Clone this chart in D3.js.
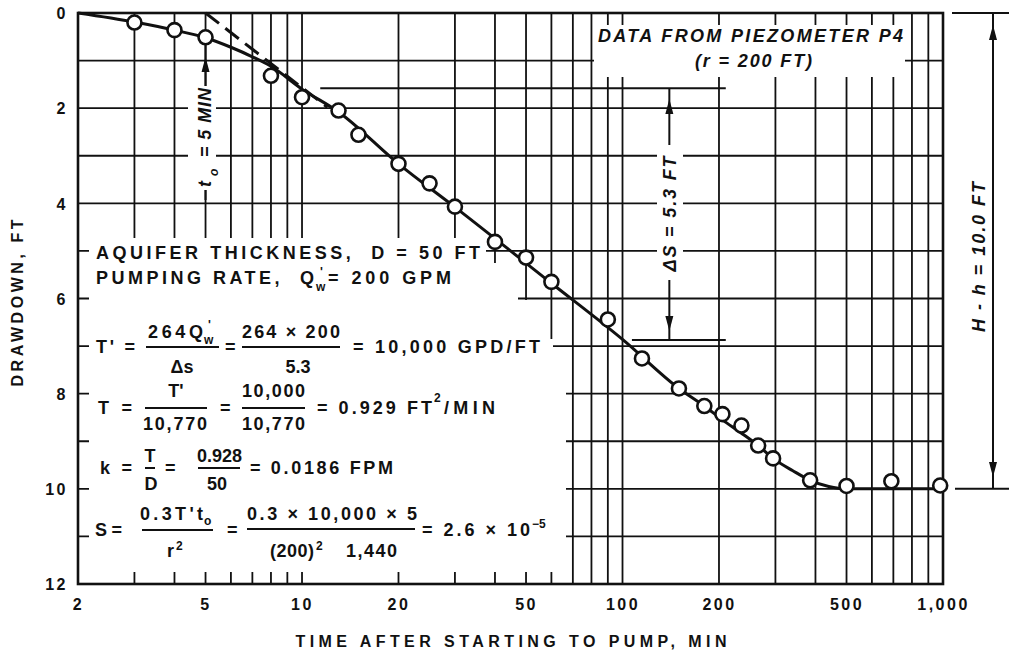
<!DOCTYPE html>
<html><head><meta charset="utf-8">
<script src="https://cdn.jsdelivr.net/npm/d3@7"></script>
<style>
html,body{margin:0;padding:0;background:#fff;}
svg{display:block;}
text{white-space:pre;}
</style></head><body>
<svg id="chart" width="1009" height="652"></svg>
<script>
// ---------- data ----------
const timeMin     = [3, 4, 5, 8, 10, 13, 15, 20, 25, 30, 40, 50, 60, 90, 115, 150, 180, 205, 235, 265, 295, 385, 500, 690, 980];
const drawdownFt  = [0.2, 0.36, 0.51, 1.32, 1.77, 2.05, 2.56, 3.17, 3.58, 4.07, 4.81, 5.14, 5.65, 6.44, 7.26, 7.89, 8.26, 8.43, 8.67, 9.09, 9.36, 9.82, 9.94, 9.84, 9.93];
const curveTime     = [2, 3, 4, 5, 6, 7, 8, 10, 13, 20, 30, 60, 100, 150, 180, 205, 235, 265, 295, 340, 385, 440, 500, 700, 1000];
const curveDrawdown = [0, 0.19, 0.36, 0.52, 0.72, 0.92, 1.12, 1.6, 2.08, 3.17, 4.08, 5.68, 6.86, 7.89, 8.26, 8.55, 8.83, 9.09, 9.36, 9.62, 9.82, 9.95, 10, 10, 10];
const dashTime     = [5, 12];
const dashDrawdown = [0, 1.98];
const xTickValues = [2, 5, 10, 20, 50, 100, 200, 500, 1000];
const xTickLabels = ["2", "5", "10", "20", "50", "100", "200", "500", "1,000"];
const yTickValues = [0, 2, 4, 6, 8, 10, 12];
const yTickLabels = ["0", "2", "4", "6", "8", "10", "12"];
const xGridValues = [3,4,5,6,7,8,9,10,20,30,40,50,60,70,80,90,100,200,300,400,500,600,700,800,900];
const yGridValues = [1,2,3,4,5,6,7,8,9,10,11];
const deltaSTop = 1.58, deltaSBottom = 6.87;   // drawdown levels of the delta-s markers
const finalDrawdown = 10;                       // H - h

// ---------- layout ----------
const FONT = "'Liberation Sans', Arial, sans-serif";
const INK = "#111";
const svg = d3.select("#chart");
const x = d3.scaleLog().domain([2, 1000]).range([78, 943]);
const y = d3.scaleLinear().domain([0, 12]).range([13, 584]);
const X0 = 78, X1 = 943, Y0 = 13, Y1 = 584;

// grid
const grid = svg.append("g").attr("stroke", INK).attr("stroke-width", 1.8);
grid.selectAll("line.v").data(xGridValues).join("line").attr("class", "v")
  .attr("x1", d => x(d)).attr("x2", d => x(d)).attr("y1", Y0).attr("y2", Y1);
grid.selectAll("line.h").data(yGridValues).join("line").attr("class", "h")
  .attr("x1", X0).attr("x2", X1).attr("y1", d => y(d)).attr("y2", d => y(d));

// white panels behind the lettering
const masks = svg.append("g").attr("fill", "#fff");
masks.append("polygon").attr("points",
  [[89,238],[486,238],[486,263],[518,263],[518,300],[546,300],[546,339],[553,339],[553,355],[566,355],[566,572],[89,572]].map(p => p.join(",")).join(" "));
masks.append("rect").attr("x", 594).attr("y", 25).attr("width", 311).attr("height", 52);
masks.append("rect").attr("x", 188).attr("y", 86).attr("width", 28).attr("height", 104);
masks.append("rect").attr("x", 657).attr("y", 145).attr("width", 26).attr("height", 135);

// frame
svg.append("rect").attr("x", X0).attr("y", Y0).attr("width", X1 - X0).attr("height", Y1 - Y0)
  .attr("fill", "none").attr("stroke", INK).attr("stroke-width", 2.6);

// axes (labels only)
const xAxis = svg.append("g").attr("transform", `translate(0,${Y1})`)
  .call(d3.axisBottom(x).tickValues(xTickValues).tickSize(0).tickPadding(15)
        .tickFormat(d => xTickLabels[xTickValues.indexOf(d)]));
const yAxis = svg.append("g").attr("transform", `translate(${X0},0)`)
  .call(d3.axisLeft(y).tickValues(yTickValues).tickSize(0).tickPadding(10)
        .tickFormat(d => yTickLabels[yTickValues.indexOf(d)]));
[xAxis, yAxis].forEach(a => {
  a.select(".domain").remove();
  a.selectAll("text").attr("font-family", FONT).attr("font-size", 16).attr("font-weight", "bold")
    .attr("fill", INK).attr("letter-spacing", 2.5);
});
yAxis.selectAll("text").attr("dy", "0.36em");

// axis titles
svg.append("text").attr("x", 511).attr("y", 647).attr("text-anchor", "middle")
  .attr("font-family", FONT).attr("font-size", 16).attr("font-weight", "bold").attr("fill", INK)
  .attr("textLength", 431).attr("lengthAdjust", "spacing").text("TIME AFTER STARTING TO PUMP, MIN");
svg.append("text").attr("transform", "translate(23,303) rotate(-90)").attr("text-anchor", "middle")
  .attr("font-family", FONT).attr("font-size", 16).attr("font-weight", "bold").attr("fill", INK)
  .attr("textLength", 167).attr("lengthAdjust", "spacing").text("DRAWDOWN, FT");

// ---------- annotations ----------
const ann = svg.append("g").attr("stroke", INK).attr("stroke-width", 2).attr("fill", "none");
function arrow(px, tipY, dir) { // dir -1 up, +1 down
  const b = tipY - dir * 15;
  svg.append("path").attr("d", `M${px},${tipY} L${px - 4},${b} L${px + 4},${b} Z`).attr("fill", INK);
}
// delta s
const xDs = x(140);
ann.append("line").attr("x1", x(11.4)).attr("x2", x(210)).attr("y1", y(deltaSTop)).attr("y2", y(deltaSTop));
ann.append("line").attr("x1", x(107)).attr("x2", x(210)).attr("y1", y(deltaSBottom)).attr("y2", y(deltaSBottom));
ann.append("line").attr("x1", xDs).attr("x2", xDs).attr("y1", y(deltaSTop)).attr("y2", 145);
ann.append("line").attr("x1", xDs).attr("x2", xDs).attr("y1", 280).attr("y2", y(deltaSBottom));
arrow(xDs, 99, -1); arrow(xDs, 331, 1);
// H - h
ann.append("line").attr("x1", 993).attr("x2", 993).attr("y1", y(0)).attr("y2", y(finalDrawdown));
ann.append("line").attr("x1", 952).attr("x2", 1009).attr("y1", y(0)).attr("y2", y(0));
ann.append("line").attr("x1", 955).attr("x2", 1009).attr("y1", y(finalDrawdown)).attr("y2", y(finalDrawdown));
arrow(993, 25, -1); arrow(993, 477, 1);
// t0
const xT0 = x(5);
ann.append("line").attr("x1", xT0).attr("x2", xT0).attr("y1", 44).attr("y2", 86);
ann.append("line").attr("x1", xT0).attr("x2", xT0).attr("y1", 190).attr("y2", 200);
arrow(xT0, 57, -1);

// ---------- data ----------
const curveLine = d3.line().x(d => x(d[0])).y(d => y(d[1])).curve(d3.curveMonotoneX);
svg.append("path").datum(curveTime.map((t, i) => [t, curveDrawdown[i]]))
  .attr("d", curveLine).attr("fill", "none").attr("stroke", INK).attr("stroke-width", 3);
svg.append("path").datum(dashTime.map((t, i) => [t, dashDrawdown[i]]))
  .attr("d", d3.line().x(d => x(d[0])).y(d => y(d[1])))
  .attr("fill", "none").attr("stroke", INK).attr("stroke-width", 3).attr("stroke-dasharray", "17,8");
svg.append("g").selectAll("circle").data(timeMin.map((t, i) => [t, drawdownFt[i]])).join("circle")
  .attr("cx", d => x(d[0])).attr("cy", d => y(d[1])).attr("r", 7)
  .attr("fill", "#fff").attr("stroke", INK).attr("stroke-width", 2.6);

// ---------- lettering ----------
function T(px, py, s, o = {}) {
  const t = svg.append("text").attr("x", px).attr("y", py)
    .attr("font-family", FONT).attr("font-size", o.size || 18).attr("font-weight", "bold")
    .attr("font-style", o.italic ? "italic" : "normal").attr("fill", INK)
    .attr("text-anchor", o.anchor || "start");
  if (o.len) t.attr("textLength", o.len).attr("lengthAdjust", "spacing");
  if (o.tf) t.attr("transform", o.tf);
  t.text(s);
  return t;
}
function bar(xa, xb, yy) {
  svg.append("line").attr("x1", xa).attr("x2", xb).attr("y1", yy).attr("y2", yy)
    .attr("stroke", INK).attr("stroke-width", 2);
}
// block of data description
T(96, 259, "AQUIFER THICKNESS,  D = 50 FT", {len: 384});
T(96, 284, "PUMPING RATE,  Q", {len: 218});
T(316, 291, "w", {size: 12});
T(320, 276, "'", {size: 12});
T(328, 284, "= 200 GPM", {len: 123});
// T'
T(96, 353, "T' =", {len: 39});
T(148, 338, "264Q", {len: 55});
T(204, 344, "w", {size: 12});
T(208, 329, "'", {size: 12});
bar(146, 219, 347);
T(182, 373, "\u0394s", {anchor: "middle"});
T(225, 353, "=", {len: 10});
T(242, 338, "264 \u00d7 200", {len: 98});
bar(242, 340, 347);
T(298, 373, "5.3", {anchor: "middle"});
T(353, 353, "= 10,000 GPD/FT", {len: 187});
// T
T(98, 414, "T =", {len: 34});
T(176, 397, "T'", {anchor: "middle"});
bar(145, 207, 408);
T(143, 430, "10,770", {len: 64});
T(220, 414, "=", {len: 12});
T(242, 397, "10,000", {len: 63});
bar(242, 305, 408);
T(242, 430, "10,770", {len: 63});
T(317, 414, "= 0.929 FT", {len: 115});
T(434, 402, "2", {size: 12});
T(444, 414, "/MIN", {len: 51});
// k
T(100, 474, "k =", {len: 32});
T(150, 462, "T", {anchor: "middle"});
bar(145, 155, 468);
T(151, 490, "D", {anchor: "middle"});
T(165, 474, "=", {len: 12});
T(197, 462, "0.928", {len: 45});
bar(198, 240, 468);
T(217, 490, "50", {anchor: "middle"});
T(250, 474, "= 0.0186 FPM", {len: 143});
// S
T(95, 536, "S =", {len: 27});
T(140, 520, "0.3T't", {len: 63});
T(204, 525, "o", {size: 12});
bar(142, 213, 530);
T(167, 557, "r");
T(176, 550, "2", {size: 12});
T(227, 536, "=", {len: 10});
T(247, 520, "0.3 \u00d7 10,000 \u00d7 5", {len: 170});
bar(247, 415, 529);
T(270, 557, "(200)", {len: 44});
T(316, 550, "2", {size: 12});
T(346, 557, "1,440", {len: 51});
T(422, 536, "= 2.6 \u00d7 10", {len: 108});
T(532, 528, "\u22125", {size: 12});
// piezometer label
T(598, 42, "DATA FROM PIEZOMETER P4", {italic: true, len: 305});
T(695, 67, "(r = 200 FT)", {italic: true, len: 117});
// rotated labels
T(0, 0, "\u0394S = 5.3 FT", {italic: true, anchor: "middle", len: 115, tf: `translate(${xDs + 7},214) rotate(-90)`});
T(0, 0, "H - h = 10.0 FT", {italic: true, anchor: "middle", len: 150, tf: "translate(985,257) rotate(-90)"});
const t0g = svg.append("g").attr("transform", `translate(${xT0 + 5},187) rotate(-90)`);
t0g.append("text").attr("x", 0).attr("y", 0).attr("font-family", FONT).attr("font-size", 18).attr("font-weight", "bold").attr("font-style", "italic").attr("fill", INK).text("t");
t0g.append("text").attr("x", 11).attr("y", 7).attr("font-family", FONT).attr("font-size", 12).attr("font-weight", "bold").attr("font-style", "italic").attr("fill", INK).text("o");
t0g.append("text").attr("x", 30).attr("y", 0).attr("font-family", FONT).attr("font-size", 18).attr("font-weight", "bold").attr("font-style", "italic").attr("fill", INK)
  .attr("textLength", 69).attr("lengthAdjust", "spacing").text("= 5 MIN");
</script>
</body></html>
